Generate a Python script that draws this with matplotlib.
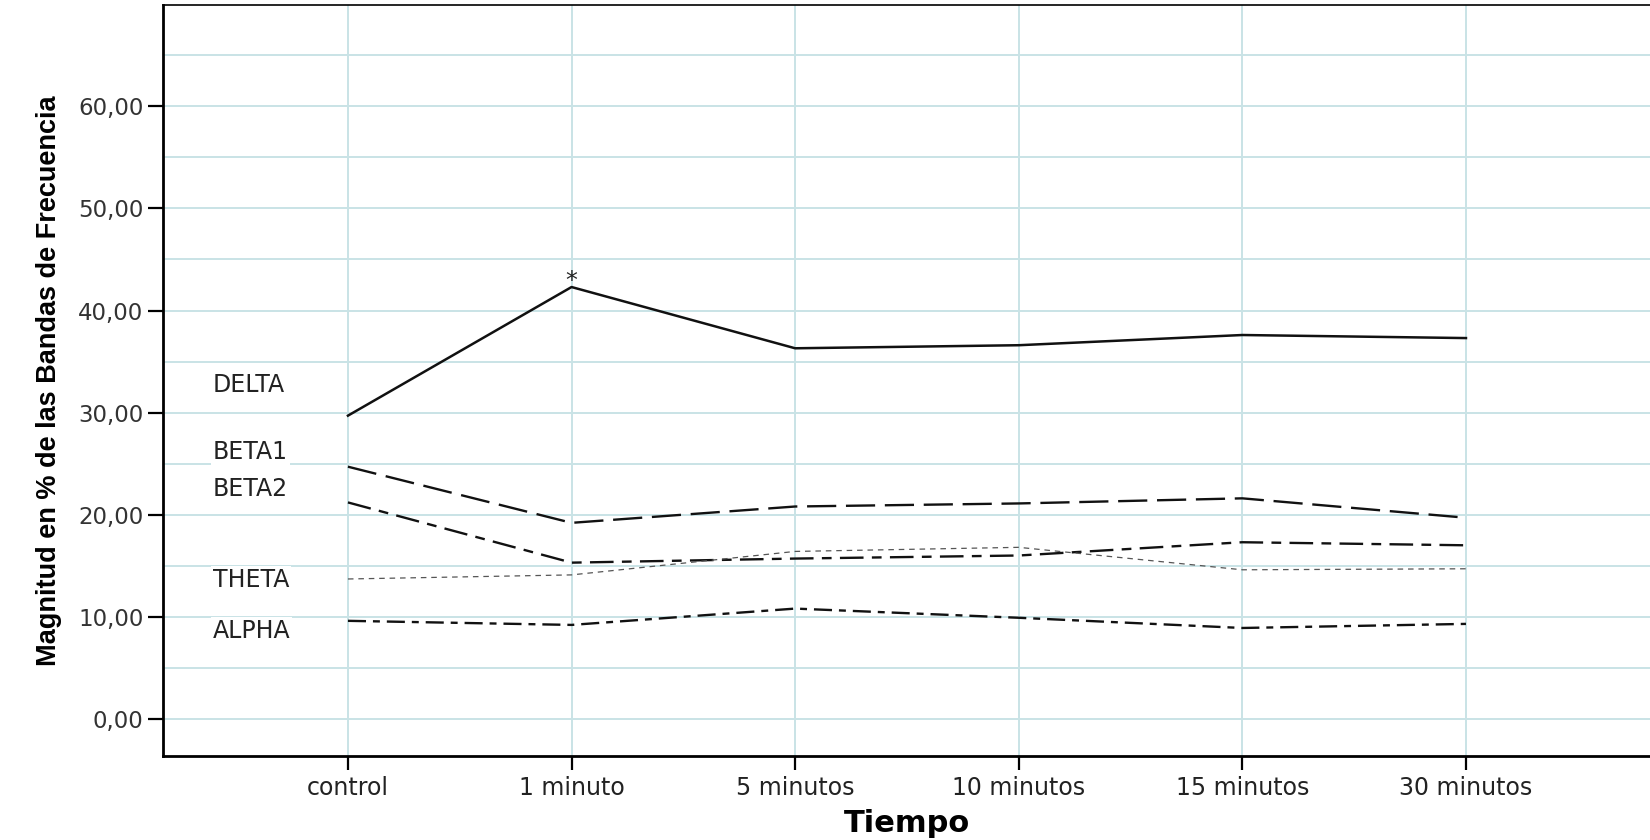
import matplotlib
matplotlib.use("Agg")
import matplotlib.pyplot as plt

# categories and band values (% of frequency bands)
tiempos = ['control', '1 minuto', '5 minutos', '10 minutos', '15 minutos', '30 minutos']
delta = [29.7, 42.3, 36.3, 36.6, 37.6, 37.3]
beta1 = [24.7, 19.2, 20.8, 21.1, 21.6, 19.7]
beta2 = [21.2, 15.3, 15.7, 16.0, 17.3, 17.0]
theta = [13.7, 14.1, 16.4, 16.8, 14.6, 14.7]
alpha = [9.6, 9.2, 10.8, 9.9, 8.9, 9.3]

band_names = ['DELTA', 'BETA1', 'BETA2', 'THETA', 'ALPHA']
label_y = [32.7, 26.1, 22.5, 13.6, 8.6]

grid_col = '#c9e3e6'
plt.rcParams['lines.scale_dashes'] = False

fig = plt.figure(figsize=(16.5, 8.4), dpi=100)
ax = fig.add_axes([0.0988, 0.1005, 0.9012, 0.8932])

x = list(range(len(tiempos)))

# grid: horizontal every 5, vertical at each category
for v in range(0, 70, 5):
    ax.axhline(v, color=grid_col, lw=1.4, zorder=0)
for xi in x:
    ax.axvline(xi, color=grid_col, lw=1.4, zorder=0)

ax.plot(x, delta, color='#111111', lw=1.8, zorder=3)
ax.plot(x, beta1, color='#111111', lw=1.7, linestyle=(0, (21, 7)), zorder=3)
ax.plot(x, beta2, color='#111111', lw=1.7, linestyle=(0, (17, 6, 7, 6)), zorder=3)
ax.plot(x, theta, color='#555555', lw=0.9, linestyle=(0, (4, 3.5)), zorder=3)
ax.plot(x, alpha, color='#111111', lw=1.7, linestyle=(0, (13, 5, 5, 5)), zorder=3)

# asterisk over the 1 minute peak
ax.annotate('*', xy=(1, delta[1]), xytext=(0, -4), textcoords='offset points',
            ha='center', va='bottom', fontsize=17, color='#222222')

for name, yy in zip(band_names, label_y):
    ax.text(-0.605, yy, name, ha='left', va='center', fontsize=17, color='#222222',
            bbox=dict(facecolor='white', edgecolor='none', pad=1.5), zorder=4)

ax.set_xlim(-0.827, 5.823)
ax.set_ylim(-3.6, 69.9)
ax.set_xticks(x)
ax.set_xticklabels(tiempos, fontsize=17, color='#222222')
ax.set_yticks(range(0, 61, 10))
ax.set_yticklabels(['%d,00' % v for v in range(0, 61, 10)], fontsize=16.5, color='#333333')

ax.tick_params(axis='y', direction='out', length=11, width=1.6, pad=3)
ax.tick_params(axis='x', direction='out', length=10, width=1.6, pad=5)

for side in ['left', 'bottom']:
    ax.spines[side].set_linewidth(2)
ax.spines['top'].set_linewidth(1.2)
ax.spines['right'].set_visible(False)

ax.set_ylabel('Magnitud en % de las Bandas de Frecuencia',
              family=['Liberation Sans', 'DejaVu Sans'],
              fontsize=19.5, fontweight='bold', labelpad=12)
ax.set_xlabel('Tiempo', fontsize=22, fontweight='bold', labelpad=6)

fig.savefig('out.png', dpi=100)
